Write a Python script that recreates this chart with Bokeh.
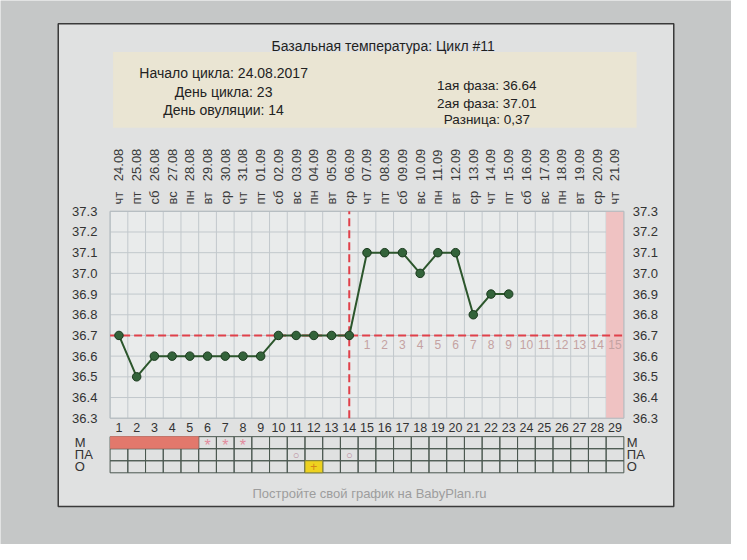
import math
from bokeh.plotting import figure
from bokeh.models import Range1d
from bokeh.core.properties import value
from bokeh.embed import file_html
from bokeh.resources import INLINE

# ---------------- data ----------------
days = list(range(1, 30))
weekdays = ["чт", "пт", "сб", "вс", "пн", "вт", "ср", "чт", "пт", "сб", "вс", "пн", "вт", "ср",
            "чт", "пт", "сб", "вс", "пн", "вт", "ср", "чт", "пт", "сб", "вс", "пн", "вт", "ср", "чт"]
dates = ["24.08", "25.08", "26.08", "27.08", "28.08", "29.08", "30.08", "31.08", "01.09",
         "02.09", "03.09", "04.09", "05.09", "06.09", "07.09", "08.09", "09.09", "10.09",
         "11.09", "12.09", "13.09", "14.09", "15.09", "16.09", "17.09", "18.09", "19.09",
         "20.09", "21.09"]
temp_days = list(range(1, 24))
temps = [36.7, 36.5, 36.6, 36.6, 36.6, 36.6, 36.6, 36.6, 36.6, 36.7, 36.7, 36.7,
         36.7, 36.7, 37.1, 37.1, 37.1, 37.0, 37.1, 37.1, 36.8, 36.9, 36.9]
temp_ticks = [36.3, 36.4, 36.5, 36.6, 36.7, 36.8, 36.9, 37.0, 37.1, 37.2, 37.3]
tick_labels = ["36.3", "36.4", "36.5", "36.6", "36.7", "36.8", "36.9", "37.0", "37.1", "37.2", "37.3"]
coverline = 36.7
ovulation_day = 14
expected_period_day = 29

row_names = ["М", "ПА", "О"]
menses_days = [1, 2, 3, 4, 5]
spotting_days = [6, 7, 8]
intercourse_days = [11, 14]
ovulation_test_days = [12]

title_text = "Базальная температура: Цикл #11"
info_left = ["Начало цикла: 24.08.2017", "День цикла: 23", "День овуляции: 14"]
info_right = ["1ая фаза: 36.64", "2ая фаза: 37.01", "Разница: 0,37"]
footer_text = "Постройте свой график на BabyPlan.ru"

# ---------------- layout (reference pixel frame 747 x 560) ----------------
FONT = "Liberation Sans"
W_REF, H_REF = 747, 560
PLOT_L, PLOT_R, PLOT_T, PLOT_B = 112, 637, 217, 430
TABLE_T, ROW_H = 449, 12.4

OUTER = "#c5c7c7"
PANEL = "#e0e1e1"
PLOT_BG = "#e9ebeb"
BEIGE = "#eae5d3"
GRID = "#c2c8cc"
RED = "#e0404a"
GREEN_LINE = "#2c562c"

t_min, t_max = temp_ticks[0], temp_ticks[-1]
col_w = (PLOT_R - PLOT_L) / len(days)
px_per_deg = (PLOT_B - PLOT_T) / (t_max - t_min)
x_start = days[0] - 0.5 - PLOT_L / col_w
x_end = days[0] - 0.5 + (W_REF - PLOT_L) / col_w
y_end = t_max + PLOT_T / px_per_deg
y_start = t_min - (H_REF - PLOT_B) / px_per_deg

p = figure(width=731, height=544, title=None, output_backend="svg", toolbar_location=None,
           x_range=Range1d(x_start, x_end), y_range=Range1d(y_start, y_end),
           x_axis_location=None, y_axis_location=None, min_border=0)
p.outline_line_color = None
p.grid.visible = False
p.background_fill_color = OUTER
p.border_fill_color = OUTER
p.extra_x_ranges = {"px": Range1d(0, W_REF)}
p.extra_y_ranges = {"py": Range1d(H_REF, 0)}
PX = dict(x_range_name="px", y_range_name="py")


def texts(xs, ys, strs, size, color, align="center", baseline="middle", angle=0.0,
          xr="px", yr="py"):
    p.text(x=xs, y=ys, text=strs, text_font=value(FONT), text_font_size=size,
           text_color=color, text_align=align, text_baseline=baseline, angle=angle,
           x_range_name=xr, y_range_name=yr)


# ---- panel and header ----
p.quad(left=[59], right=[688], top=[24], bottom=[521], fill_color=PANEL,
       line_color="#3a3a3a", line_width=1.5, **PX)
p.quad(left=[115], right=[650], top=[53], bottom=[131], fill_color=BEIGE, line_color=None, **PX)
texts([391], [47], [title_text], "14px", "#1f1f1f")
texts([228] * 3, [75, 94, 113], info_left, "14px", "#222222")
texts([497] * 3, [88, 106, 123], info_right, "13.5px", "#222222")

# ---- plot area ----
first_edge, last_edge = days[0] - 0.5, days[-1] + 0.5
p.quad(left=[first_edge], right=[last_edge], bottom=[t_min], top=[t_max],
       fill_color=PLOT_BG, line_color=None)
edges = [d - 0.5 for d in days] + [last_edge]
p.segment(x0=edges, x1=edges, y0=[t_min] * len(edges), y1=[t_max] * len(edges),
          line_color=GRID, line_width=1)
p.segment(x0=[first_edge] * len(temp_ticks), x1=[last_edge] * len(temp_ticks),
          y0=temp_ticks, y1=temp_ticks, line_color=GRID, line_width=1)
p.quad(left=[expected_period_day - 0.5], right=[expected_period_day + 0.5],
       bottom=[t_min], top=[t_max], fill_color="#efc2c2", line_color=None)
p.quad(left=[first_edge], right=[last_edge], bottom=[t_min], top=[t_max],
       fill_color=None, fill_alpha=0, line_color="#b3babe", line_width=1)

# coverline and ovulation line
p.segment(x0=[first_edge], x1=[last_edge], y0=[coverline], y1=[coverline],
          line_color=RED, line_width=2, line_dash="8 4")
p.segment(x0=[ovulation_day], x1=[ovulation_day], y0=[t_min], y1=[t_max],
          line_color=RED, line_width=2, line_dash="8 4")

# temperature curve
p.line(temp_days, temps, line_color=GREEN_LINE, line_width=2)
p.scatter(temp_days, temps, size=8.5, fill_color="#33633a", line_color="#1b3a1e", line_width=1)

# post-ovulation numbering
post_days = [d for d in days if d > ovulation_day]
post_nums = [str(d - ovulation_day) for d in post_days]
p.text(x=post_days, y=[coverline] * len(post_days), text=post_nums, y_offset=9,
       text_font=value(FONT), text_font_size="12px", text_color="#c4a2a2",
       text_align="center", text_baseline="middle")

# ---- axis labels ----
texts([PLOT_L - 13] * len(temp_ticks), temp_ticks, tick_labels, "13px", "#333333",
      align="right", yr="default")
texts([PLOT_R + 9] * len(temp_ticks), temp_ticks, tick_labels, "13px", "#333333",
      align="left", yr="default")
texts(days, [PLOT_T - 7] * len(days), weekdays, "13px", "#3a3a3a", align="left",
      angle=math.pi / 2, xr="default")
texts(days, [PLOT_T - 31] * len(days), dates, "13px", "#3a3a3a", align="left",
      angle=math.pi / 2, xr="default")
texts(days, [PLOT_B + 10] * len(days), [str(d) for d in days], "12.5px", "#333333",
      xr="default")

# ---- marks table ----
cell_l, cell_r, cell_t, cell_b = [], [], [], []
for r in range(len(row_names)):
    for d in days:
        cell_l.append(d - 0.5)
        cell_r.append(d + 0.5)
        cell_t.append(TABLE_T + r * ROW_H)
        cell_b.append(TABLE_T + (r + 1) * ROW_H)
p.quad(left=cell_l, right=cell_r, top=cell_t, bottom=cell_b, fill_color=None, fill_alpha=0,
       line_color="#4b5850", line_width=1, y_range_name="py")
p.quad(left=[menses_days[0] - 0.5], right=[menses_days[-1] + 0.5], top=[TABLE_T - 0.5],
       bottom=[TABLE_T + ROW_H], fill_color="#e2786c", line_color=None, y_range_name="py")
p.quad(left=[d - 0.5 for d in ovulation_test_days], right=[d + 0.5 for d in ovulation_test_days],
       top=[TABLE_T + 2 * ROW_H] * len(ovulation_test_days),
       bottom=[TABLE_T + 3 * ROW_H] * len(ovulation_test_days),
       fill_color="#eed21f", line_color="#8a8a3a", line_width=1, y_range_name="py")

texts(spotting_days, [TABLE_T + 0.5 * ROW_H + 3] * len(spotting_days), ["*"] * len(spotting_days),
      "16px", "#e28b9d", xr="default")
texts(intercourse_days, [TABLE_T + 1.5 * ROW_H] * len(intercourse_days),
      ["○"] * len(intercourse_days), "11px", "#b9889b", xr="default")
texts(ovulation_test_days, [TABLE_T + 2.5 * ROW_H] * len(ovulation_test_days),
      ["+"] * len(ovulation_test_days), "12px", "#d4861a", xr="default")

row_centers = [TABLE_T + (r + 0.5) * ROW_H for r in range(len(row_names))]
texts([76] * len(row_names), row_centers, row_names, "13px", "#333333", align="left")
texts([640] * len(row_names), row_centers, row_names, "13px", "#333333", align="left")

# footer
texts([377], [508], [footer_text], "13px", "#9d9d9d")

open("out.html", "w").write(file_html(p, INLINE))
